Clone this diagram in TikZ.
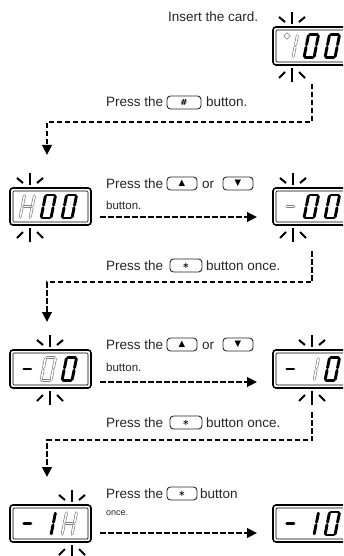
\documentclass[tikz,border=0pt]{standalone}
\usepackage{fontspec}
\setmainfont{Liberation Sans}
\newfontfamily\symfont{DejaVu Sans}
\usetikzlibrary{arrows.meta}
\tikzset{
  lbl/.style={inner sep=0pt, anchor=base west, text=black!85, font=\fontsize{13.5}{16}\selectfont},
  lblsm/.style={lbl, font=\fontsize{11.5}{13}\selectfont},
  lbltiny/.style={lbl, font=\fontsize{9}{11}\selectfont},
  btn/.style={draw=black!85, line width=0.9pt, rounded corners=3.5pt, minimum height=13pt, minimum width=30pt, inner sep=0pt, font=\symfont\fontsize{8.5}{9}\selectfont},
  dispbox/.style={draw, line width=1.6pt, rounded corners=3pt, inner sep=0pt, outer sep=0pt},
  dispinner/.style={draw, line width=0.7pt, rounded corners=1pt},
  blk/.style={line width=2.9pt, line cap=round, black},
  faint/.style={draw=black!50, line width=0.7pt, double=white, double distance=1.5pt, line cap=round},
  spark/.style={line width=2pt, black},
  dline/.style={line width=2.5pt, dash pattern=on 5.5pt off 2.5pt, -{Triangle[length=10pt,width=9.5pt]}}
}
\newcommand\disp[4]{%
  \node[dispbox, minimum width=#3pt, minimum height=#4pt] (#1) at (#2) {};
  \draw[dispinner] ([shift={(3pt,-3pt)}]#1.north west) rectangle ([shift={(-3pt,3pt)}]#1.south east);}
\newcommand\dig[4]{%
  \begin{scope}[shift={(#1,#2)},xslant=0.2]
    \coordinate (sa1) at (1.2,-23); \coordinate (sa2) at (8.8,-23);
    \coordinate (sb1) at (10,-21.8); \coordinate (sb2) at (10,-12.7);
    \coordinate (sc1) at (10,-10.3); \coordinate (sc2) at (10,-1.2);
    \coordinate (sd1) at (1.2,0); \coordinate (sd2) at (8.8,0);
    \coordinate (se1) at (0,-1.2); \coordinate (se2) at (0,-10.3);
    \coordinate (sf1) at (0,-12.7); \coordinate (sf2) at (0,-21.8);
    \coordinate (sg1) at (1.5,-11.5); \coordinate (sg2) at (8.5,-11.5);
    \foreach \s in {#4}{\draw[#3] (s\s1) -- (s\s2);}
  \end{scope}}
\newcommand\sparkup[2]{%
  \begin{scope}[shift={(#1,#2)}]
    \draw[spark] (0,-15) -- (0,-3);
    \draw[spark] (-13,-10) -- (-7,-5);
    \draw[spark] (13,-10) -- (7,-5);
  \end{scope}}
\newcommand\sparkdown[2]{%
  \begin{scope}[shift={(#1,#2)}]
    \draw[spark] (0,3) -- (0,17);
    \draw[spark] (-13,13) -- (-7,7);
    \draw[spark] (13,13) -- (7,7);
  \end{scope}}
\begin{document}
\begin{tikzpicture}[x=1pt,y=-1pt]
\useasboundingbox (0,0) rectangle (343,556);
\fill[white] (0,0) rectangle (343,556);
\clip (0,0) rectangle (343,556);

% displays
\disp{d1}{312,46}{78}{38}
\disp{d2}{50.5,206.5}{81}{37}
\disp{d3}{312,206.5}{78}{37}
\disp{d4}{50.5,369}{81}{38}
\disp{d5}{312,369}{78}{38}
\disp{d6}{50.5,523.5}{81}{37}
\disp{d7}{312,523.5}{78}{37}

% digits
% d1
\dig{283}{57.5}{faint}{b,c}
\draw[faint] (287,36) circle (1.6);
\dig{304}{57.5}{blk}{a,b,c,d,e,f}
\dig{325}{57.5}{blk}{a,b,c,d,e,f}
% d2
\dig{20}{218}{faint}{a,b,c,d,e,f,g}
\dig{41}{218}{blk}{a,b,c,d,e,f}
\dig{62}{218}{blk}{a,b,c,d,e,f}
% d3
\dig{283}{218}{faint}{g}
\dig{304}{218}{blk}{a,b,c,d,e,f}
\dig{325}{218}{blk}{a,b,c,d,e,f}
% d4
\dig{20}{380.5}{blk}{g}
\dig{41}{380.5}{faint}{a,b,c,d,e,f,g}
\dig{62}{380.5}{blk}{a,b,c,d,e,f}
% d5
\dig{283}{380.5}{blk}{g}
\dig{304}{380.5}{faint}{b,c}
\dig{325}{380.5}{blk}{a,b,c,d,e,f}
% d6
\dig{20}{535}{blk}{g}
\dig{41}{535}{blk}{b,c}
\dig{62}{535}{faint}{a,b,c,d,e,f,g}
% d7
\dig{283}{535}{blk}{g}
\dig{304}{535}{blk}{b,c}
\dig{325}{535}{blk}{a,b,c,d,e,f}

% sparkles
\sparkup{292}{27}  \sparkdown{292}{65}
\sparkup{30}{188}  \sparkdown{30}{225}
\sparkup{293}{188} \sparkdown{293}{225}
\sparkup{50}{350}  \sparkdown{50}{388}
\sparkup{312}{350} \sparkdown{312}{388}
\sparkup{72}{505}  \sparkdown{72}{542}

% texts
\node[lbl] (ins) at (168,22) {Insert the card.};

\node[lbl] (t1a) at (106,107) {Press the};
\node[btn, minimum width=34pt] (b1) at (184,102.5) {\textbf{\#}};
\node[lbl] (t1b) at (206,107) {button.};

\node[lbl] (t2a) at (106,188) {Press the};
\node[btn] (b2u) at (182,183.5) {▲};
\node[lbl] (t2o) at (202,188) {or};
\node[btn] (b2d) at (238,183.5) {▼};
\node[lblsm] (t2b) at (106,209) {button.};

\node[lbl] (t3a) at (106,270) {Press the};
\node[btn, minimum width=32pt] (b3) at (186,265.5) {∗};
\node[lbl] (t3b) at (206,270) {button once.};

\node[lbl] (t4a) at (106,349) {Press the};
\node[btn] (b4u) at (182,344.5) {▲};
\node[lbl] (t4o) at (202,349) {or};
\node[btn] (b4d) at (238,344.5) {▼};
\node[lblsm] (t4b) at (106,371) {button.};

\node[lbl] (t5a) at (106,427) {Press the};
\node[btn, minimum width=32pt] (b5) at (186,422.5) {∗};
\node[lbl] (t5b) at (206,427) {button once.};

\node[lbl] (t6a) at (106,498) {Press the};
\node[btn] (b6) at (182,493.5) {∗};
\node[lbl] (t6b) at (200,498) {button};
\node[lbltiny] (t6c) at (106,515) {once.};

% connectors
\coordinate (p1s) at ([yshift=-19pt]d1.south);
\coordinate (p1m) at (47,122);
\coordinate (p1e) at (47,155);
\draw[dline] (p1s) |- (p1m) -- (p1e);

\coordinate (p2s) at ([yshift=-26pt]d3.south);
\coordinate (p2m) at (47,282);
\coordinate (p2e) at (47,322);
\draw[dline] (p2s) |- (p2m) -- (p2e);

\coordinate (p3s) at ([yshift=-24pt]d5.south);
\coordinate (p3m) at (47,440);
\coordinate (p3e) at (47,477);
\draw[dline] (p3s) |- (p3m) -- (p3e);

\coordinate (h1s) at (100,217); \coordinate (h1e) at (257,217);
\draw[dline] (h1s) -- (h1e);
\coordinate (h2s) at (100,382); \coordinate (h2e) at (257,382);
\draw[dline] (h2s) -- (h2e);
\coordinate (h3s) at (100,533); \coordinate (h3e) at (257,533);
\draw[dline] (h3s) -- (h3e);
\end{tikzpicture}
\end{document}
